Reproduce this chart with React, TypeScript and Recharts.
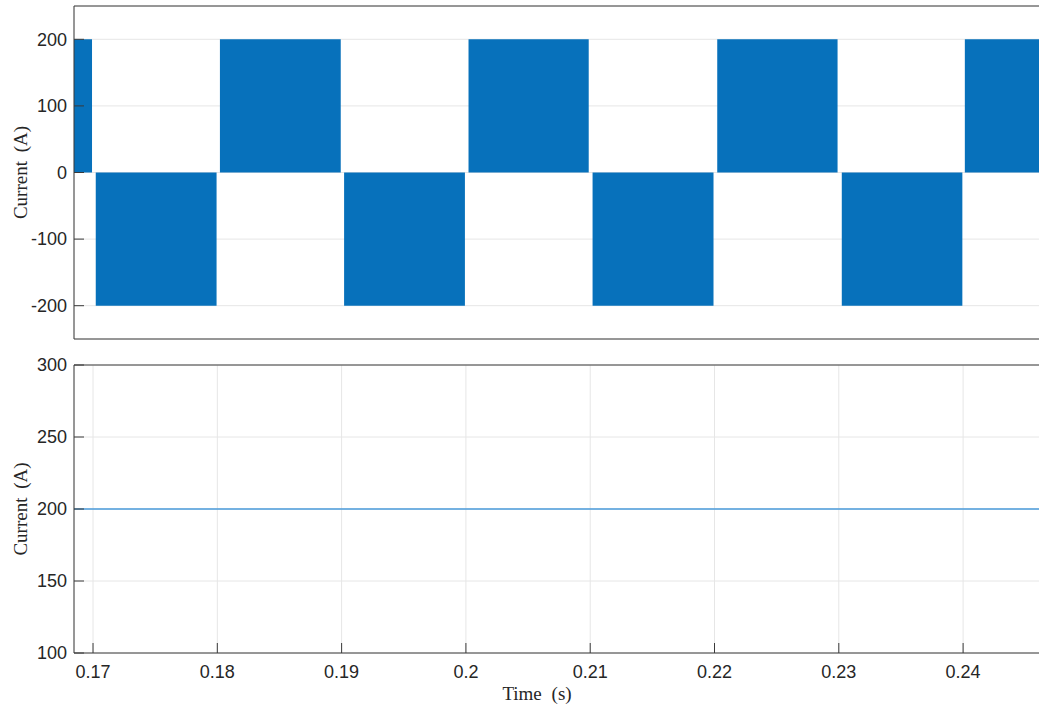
import React from 'react';
import { AreaChart, Area, LineChart, Line, XAxis, YAxis, CartesianGrid } from 'recharts';

const xMin = 0.16847;
const xMax = 0.24675;
const timeTicks = [0.17, 0.18, 0.19, 0.2, 0.21, 0.22, 0.23, 0.24];
const timeTickLabels = ['0.17', '0.18', '0.19', '0.2', '0.21', '0.22', '0.23', '0.24'];
const acTicks = [-200, -100, 0, 100, 200];
const dcTicks = [100, 150, 200, 250, 300];

const switchTimes = [
  0.16847, 0.16992, 0.16992, 0.17022, 0.17022, 0.17994, 0.17994, 0.18021, 0.18021,
  0.18993, 0.18993, 0.1902, 0.1902, 0.19992, 0.19992, 0.20021, 0.20021, 0.20988,
  0.20988, 0.21019, 0.21019, 0.21992, 0.21992, 0.22022, 0.22022, 0.2299, 0.2299,
  0.23024, 0.23024, 0.23994, 0.23994, 0.24014, 0.24014, 0.24675,
];
const phaseCurrent = [
  200, 200, 0, 0, -200, -200, 0, 0, 200,
  200, 0, 0, -200, -200, 0, 0, 200, 200,
  0, 0, -200, -200, 0, 0, 200, 200, 0,
  0, -200, -200, 0, 0, 200, 200,
];
const dcTimes = [0.16847, 0.24675];
const dcCurrent = [200, 200];

const acData = switchTimes.map((t, i) => ({ t, i: phaseCurrent[i] }));
const dcData = dcTimes.map((t, i) => ({ t, i: dcCurrent[i] }));

const W = 1060;
const H = 711;
const axisColor = '#3a3a3a';
const gridColor = '#e6e6e6';
const tickFont = { fontFamily: 'Liberation Sans, Arial, sans-serif', fontSize: 18, fill: '#262626' };
const labelFont = { fontFamily: 'Liberation Serif, Times New Roman, serif', fontSize: 19, fill: '#262626' };

const yLabel = (props: any) => {
  const vb = props.viewBox || {};
  const cx = 20;
  const cy = vb.y + vb.height / 2;
  return (
    <text x={cx} y={cy} transform={`rotate(-90 ${cx} ${cy})`} textAnchor="middle" dominantBaseline="central" style={{ ...labelFont, wordSpacing: 4 }} fill="#262626">
      Current (A)
    </text>
  );
};

const xLabel = () => (
  <text x={537} y={693} textAnchor="middle" dominantBaseline="central" style={{ ...labelFont, wordSpacing: 5 }} fill="#262626">
    Time (s)
  </text>
);

const fmtTime = (v: number) => {
  const idx = timeTicks.findIndex((x) => Math.abs(x - v) < 1e-9);
  return idx >= 0 ? timeTickLabels[idx] : String(v);
};

export default function App() {
  return (
    <div style={{ position: 'absolute', left: 0, top: 0, width: 1039, height: 711, overflow: 'hidden', background: '#fff' }}>
      <div style={{ position: 'absolute', left: 0, top: 0 }}>
        <AreaChart width={W} height={H} data={acData} margin={{ top: 5, right: W - 1048, left: 0, bottom: 711 - 340 }}>
          <CartesianGrid xAxisId="b" yAxisId="l" stroke={gridColor} strokeWidth={1} />
          <Area xAxisId="b" yAxisId="l" type="linear" dataKey="i" baseValue={0} stroke="none" fill="#0771BB" fillOpacity={1} isAnimationActive={false} dot={false} activeDot={false} />
          <XAxis xAxisId="b" dataKey="t" type="number" domain={[xMin, xMax]} allowDataOverflow ticks={timeTicks} tick={false} tickSize={-10} height={1} stroke={axisColor} />
          <XAxis xAxisId="t" orientation="top" dataKey="t" type="number" domain={[xMin, xMax]} allowDataOverflow ticks={timeTicks} tick={false} tickSize={-10} height={1} stroke={axisColor} />
          <YAxis yAxisId="l" type="number" domain={[-250, 250]} ticks={acTicks} width={74} tickSize={-10} tickMargin={17} tick={tickFont} stroke={axisColor} label={{ content: yLabel }} />
          <YAxis yAxisId="r" orientation="right" type="number" domain={[-250, 250]} ticks={acTicks} width={1} tickSize={-10} tick={false} stroke={axisColor} />
        </AreaChart>
      </div>
      <div style={{ position: 'absolute', left: 0, top: 0 }}>
        <LineChart width={W} height={H} data={dcData} margin={{ top: 364, right: W - 1048, left: 0, bottom: 0 }}>
          <CartesianGrid xAxisId="b" yAxisId="l" stroke={gridColor} strokeWidth={1} />
          <Line xAxisId="b" yAxisId="l" type="linear" dataKey="i" stroke="#4A9BDB" strokeWidth={1.6} dot={false} activeDot={false} isAnimationActive={false} />
          <XAxis xAxisId="b" dataKey="t" type="number" domain={[xMin, xMax]} allowDataOverflow ticks={timeTicks} tickFormatter={fmtTime} tick={tickFont} tickSize={-10} tickMargin={22} height={711 - 653} stroke={axisColor} label={{ content: xLabel }} />
          <XAxis xAxisId="t" orientation="top" dataKey="t" type="number" domain={[xMin, xMax]} allowDataOverflow ticks={timeTicks} tick={false} tickSize={-10} height={1} stroke={axisColor} />
          <YAxis yAxisId="l" type="number" domain={[100, 300]} ticks={dcTicks} width={74} tickSize={-10} tickMargin={17} tick={tickFont} stroke={axisColor} label={{ content: yLabel }} />
          <YAxis yAxisId="r" orientation="right" type="number" domain={[100, 300]} ticks={dcTicks} width={1} tickSize={-10} tick={false} stroke={axisColor} />
        </LineChart>
      </div>
    </div>
  );
}
